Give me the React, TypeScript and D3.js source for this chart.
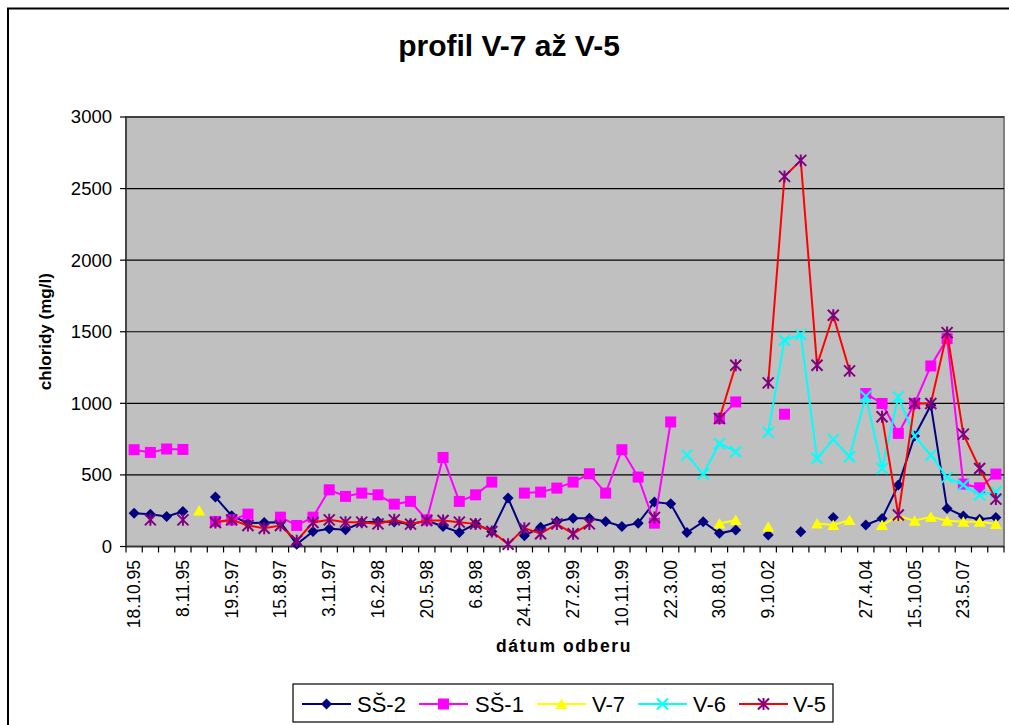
import React from "react";
import * as d3 from "d3";

type V = number | null;

const categoryLabels: string[] = [
  "18.10.95", "", "", "8.11.95", "", "", "19.5.97", "", "", "15.8.97",
  "", "", "3.11.97", "", "", "16.2.98", "", "", "20.5.98", "",
  "", "6.8.98", "", "", "24.11.98", "", "", "27.2.99", "", "",
  "10.11.99", "", "", "22.3.00", "", "", "30.8.01", "", "", "9.10.02",
  "", "", "", "", "", "27.4.04", "", "", "15.10.05", "",
  "", "23.5.07", "", "",
];

const ss2: V[] = [
  233, 226, 210, 245, null, 345, 215, 163, 168, 170,
  16, 105, 124, 117, 168, 175, 172, 156, 182, 140,
  98, 158, 105, 338, 75, 135, 175, 198, 198, 175,
  140, 163, 310, 298, 97, 173, 92, 115, null, 80,
  null, 103, null, 203, null, 150, 196, 429, 771, 987,
  266, 213, 190, 203,
];

const ss1: V[] = [
  676, 657, 681, 678, null, 175, 186, 226, null, 205,
  147, 205, 396, 350, 373, 361, 296, 315, 186, 622,
  315, 361, 450, null, 373, 380, 408, 450, 508, 373,
  676, 485, 163, 870, null, null, 894, 1010, null, null,
  924, null, null, null, null, 1068, 999, 790, 999, 1261,
  1452, 436, 410, 506,
];

const v7: V[] = [
  null, null, null, null, 252, null, null, null, null, null,
  null, null, null, null, null, null, null, null, null, null,
  null, null, null, null, null, null, null, null, null, null,
  null, null, null, null, null, null, 161, 185, null, 138,
  null, null, 161, 150, 185, null, 150, 213, 180, 208,
  180, 173, 173, 157,
];

const v6: V[] = [
  null, null, null, null, null, null, null, null, null, null,
  null, null, null, null, null, null, null, null, null, null,
  null, null, null, null, null, null, null, null, null, null,
  null, null, null, null, 638, 506, 720, 662, null, 797,
  1441, 1480, 615, 748, 627, 1050, 545, 1045, 771, 638,
  483, 429, 360, 382,
];

const v5: V[] = [
  null, 186, null, 186, null, 168, 186, 147, 128, 147,
  40, 168, 186, 170, 170, 158, 186, 156, 182, 182,
  170, 158, 105, 16, 128, 89, 158, 89, 158, null,
  null, null, 203, null, null, null, 894, 1266, null, 1143,
  2585, 2697, 1266, 1615, 1227, null, 906, 220, 999, 999,
  1494, 785, 545, 331,
];

const yTicks = [0, 500, 1000, 1500, 2000, 2500, 3000];
const seriesNames = ["SŠ-2", "SŠ-1", "V-7", "V-6", "V-5"];

type MarkerKind = "diamond" | "square" | "triangle" | "x" | "asterisk";
interface Series { name: string; values: V[]; line: string; marker: MarkerKind; mfill: string; }

const series: Series[] = [
  { name: seriesNames[0], values: ss2, line: "#000080", marker: "diamond", mfill: "#000080" },
  { name: seriesNames[1], values: ss1, line: "#FF00FF", marker: "square", mfill: "#FF00FF" },
  { name: seriesNames[2], values: v7, line: "#FFFF00", marker: "triangle", mfill: "#FFFF00" },
  { name: seriesNames[3], values: v6, line: "#00FFFF", marker: "x", mfill: "#00FFFF" },
  { name: seriesNames[4], values: v5, line: "#FF0000", marker: "asterisk", mfill: "#800080" },
];

const FONT = "'Liberation Sans', Arial, Helvetica, sans-serif";

function Marker({ kind, x, y, color }: { kind: MarkerKind; x: number; y: number; color: string }) {
  const h = 5.5;
  switch (kind) {
    case "diamond":
      return <path d={`M${x},${y - h} L${x + h},${y} L${x},${y + h} L${x - h},${y} Z`} fill={color} />;
    case "square":
      return <rect x={x - 5.5} y={y - 5.5} width={11} height={11} fill={color} />;
    case "triangle":
      return <path d={`M${x},${y - 5.5} L${x + 6},${y + 5} L${x - 6},${y + 5} Z`} fill={color} />;
    case "x":
      return (
        <path d={`M${x - h},${y - h} L${x + h},${y + h} M${x - h},${y + h} L${x + h},${y - h}`}
          stroke={color} strokeWidth={2} fill="none" />
      );
    case "asterisk":
      return (
        <path d={`M${x - h},${y - h} L${x + h},${y + h} M${x - h},${y + h} L${x + h},${y - h} M${x},${y - h - 0.5} L${x},${y + h + 0.5}`}
          stroke={color} strokeWidth={2} fill="none" />
      );
  }
}

export default function App() {
  const W = 1009, H = 725;
  const left = 126, right = 1004, top = 117, bottom = 546.5;
  const n = categoryLabels.length;
  const x = d3.scaleBand<number>().domain(d3.range(n)).range([left, right]).paddingInner(0).paddingOuter(0);
  const cx = (i: number) => (x(i) as number) + x.bandwidth() / 2;
  const y = d3.scaleLinear().domain([0, 3000]).range([bottom, top]);

  const lineGen = d3.line<V>()
    .defined((d) => d !== null)
    .x((_, i) => cx(i))
    .y((d) => y(d as number));

  const legendItems = [
    { lx: 302, tx: 357 },
    { lx: 419, tx: 475 },
    { lx: 537, tx: 592 },
    { lx: 638, tx: 693 },
    { lx: 739, tx: 793 },
  ];
  const legY = 704;

  return (
    <svg width={W} height={H} style={{ position: "absolute", left: 0, top: 0, background: "#fff" }}
      fontFamily={FONT}>
      <rect x={0} y={0} width={W} height={H} fill="#fff" />
      <rect x={8} y={8.5} width={W + 20} height={H + 20} fill="none" stroke="#000" strokeWidth={2} />
      <text x={509} y={56} textAnchor="middle" fontSize={30} fontWeight="bold">profil V-7 až V-5</text>

      {/* plot area */}
      <rect x={left} y={top} width={right - left} height={bottom - top} fill="#C0C0C0" stroke="#808080" strokeWidth={2} />
      {yTicks.filter((t) => t > 0).map((t) => (
        <line key={t} x1={left} x2={right} y1={y(t)} y2={y(t)} stroke="#000" strokeWidth={1.2} />
      ))}
      {/* axes */}
      <line x1={left} x2={left} y1={top} y2={bottom} stroke="#333" strokeWidth={1.5} />
      <line x1={left} x2={right} y1={bottom} y2={bottom} stroke="#333" strokeWidth={1.5} />
      {yTicks.map((t) => (
        <g key={t}>
          <line x1={left - 6} x2={left} y1={y(t)} y2={y(t)} stroke="#000" strokeWidth={1.2} />
          <text x={left - 14} y={y(t)} dy="0.35em" textAnchor="end" fontSize={18.5}>{t}</text>
        </g>
      ))}
      {d3.range(n + 1).map((i) => {
        const xx = i < n ? (x(i) as number) : right;
        return <line key={i} x1={xx} x2={xx} y1={bottom} y2={bottom + 6} stroke="#000" strokeWidth={1.2} />;
      })}
      {categoryLabels.map((lab, i) => lab ? (
        <text key={i} transform={`translate(${cx(i) + 6},${560}) rotate(-90)`} textAnchor="end" fontSize={17.5}>{lab}</text>
      ) : null)}

      <text transform={`translate(51,${(top + bottom) / 2}) rotate(-90)`} textAnchor="middle" fontSize={17} fontWeight="bold">chloridy (mg/l)</text>
      <text x={564} y={652} textAnchor="middle" fontSize={17.5} fontWeight="bold" letterSpacing={1.6}>dátum odberu</text>

      {/* series */}
      {series.map((s) => (
        <g key={s.name}>
          <path d={lineGen(s.values) || ""} fill="none" stroke={s.line} strokeWidth={2} />
          {s.values.map((v, i) => v === null ? null : (
            <Marker key={i} kind={s.marker} x={cx(i)} y={y(v)} color={s.mfill} />
          ))}
        </g>
      ))}

      {/* legend */}
      <rect x={293} y={684} width={540} height={38} fill="#fff" stroke="#000" strokeWidth={1.2} />
      {series.map((s, k) => (
        <g key={s.name}>
          <line x1={legendItems[k].lx} x2={legendItems[k].lx + 49} y1={legY} y2={legY} stroke={s.line} strokeWidth={2} />
          <Marker kind={s.marker} x={legendItems[k].lx + 24.5} y={legY} color={s.mfill} />
          <text x={legendItems[k].tx} y={legY} dy="0.36em" fontSize={22}>{s.name}</text>
        </g>
      ))}
    </svg>
  );
}
